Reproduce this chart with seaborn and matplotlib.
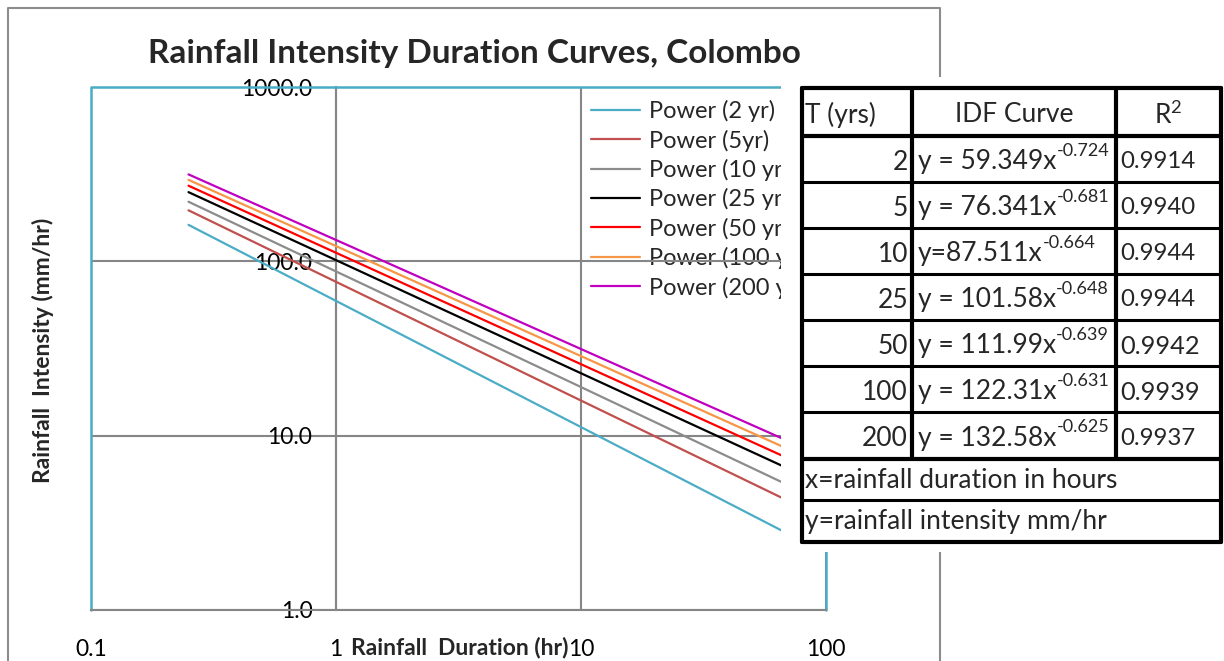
import numpy as np
import pandas as pd
import matplotlib
matplotlib.use('Agg')
import matplotlib.pyplot as plt
import seaborn as sns
from matplotlib.patches import Rectangle
from matplotlib.lines import Line2D
from matplotlib.text import Annotation
from matplotlib.transforms import Affine2D
from matplotlib.ticker import FixedLocator, FixedFormatter, NullLocator

durations = [0.25, 1, 10, 72]

# rainfall intensity (mm/hr) for each return period
intensity_2yr = [161.9, 59.3, 11.2, 2.68]
intensity_5yr = [196.2, 76.3, 15.9, 4.15]
intensity_10yr = [219.7, 87.5, 19.0, 5.11]
intensity_25yr = [249.4, 101.6, 22.8, 6.36]
intensity_50yr = [271.6, 112.0, 25.7, 7.28]
intensity_100yr = [293.3, 122.3, 28.6, 8.23]
intensity_200yr = [315.3, 132.6, 31.4, 9.15]

series_names = ['Power (2 yr)', 'Power (5yr)', 'Power (10 yr)', 'Power (25 yr)',
                'Power (50 yr)', 'Power (100 yr)', 'Power (200 yr)']
series_colors = ['#4BACC6', '#C0504D', '#8C8C8C', '#000000', '#FF0000', '#F79646', '#C000C0']

x_ticks = [0.1, 1, 10, 100]
x_tick_labels = ['0.1', '1', '10', '100']
y_ticks = [1, 10, 100, 1000]
y_tick_labels = ['1.0', '10.0', '100.0', '1000.0']

# table beside the chart
table_header = ['T (yrs)', 'IDF Curve', 'R$^2$']
return_periods = ['2', '5', '10', '25', '50', '100', '200']
idf_base = ['y = 59.349x', 'y = 76.341x', 'y=87.511x', 'y = 101.58x',
            'y = 111.99x', 'y = 122.31x', 'y = 132.58x']
idf_power = ['-0.724', '-0.681', '-0.664', '-0.648', '-0.639', '-0.631', '-0.625']
r_squared = ['0.9914', '0.9940', '0.9944', '0.9944', '0.9942', '0.9939', '0.9937']
table_notes = ['x=rainfall duration in hours', 'y=rainfall intensity mm/hr']

sns.set_style('white')
plt.rcParams['font.family'] = ['Lato', 'DejaVu Sans']
plt.rcParams['mathtext.fontset'] = 'custom'
plt.rcParams['mathtext.rm'] = 'Lato'
plt.rcParams['mathtext.default'] = 'regular'

W, H = 1224, 661
fig = plt.figure(figsize=(W / 100, H / 100), dpi=100)
fig.patch.set_facecolor('white')
pix = Affine2D().scale(1 / W, -1 / H).translate(0, 1) + fig.transFigure

# plot area in pixels: left 91, right 826, top 87, bottom 610
ax = fig.add_axes([91 / W, 1 - 610 / H, 735 / W, 523 / H])

df = pd.DataFrame({
    'duration': durations * 7,
    'intensity': (intensity_2yr + intensity_5yr + intensity_10yr + intensity_25yr
                  + intensity_50yr + intensity_100yr + intensity_200yr),
    'series': [s for s in series_names for _ in durations],
})
for name, color in zip(series_names, series_colors):
    sns.lineplot(data=df[df['series'] == name], x='duration', y='intensity',
                 color=color, lw=1.6, label=name, ax=ax, zorder=3)

ax.set_xscale('log')
ax.set_yscale('log')
ax.set_xlim(0.1, 100)
ax.set_ylim(1, 1000)
ax.xaxis.set_major_locator(FixedLocator(x_ticks))
ax.xaxis.set_major_formatter(FixedFormatter(x_tick_labels))
ax.yaxis.set_major_locator(FixedLocator(y_ticks))
ax.yaxis.set_major_formatter(FixedFormatter(y_tick_labels))
ax.xaxis.set_minor_locator(NullLocator())
ax.yaxis.set_minor_locator(NullLocator())
ax.set_xlabel('')
ax.set_ylabel('')

grid_gray = '#868686'
ax.set_axisbelow(True)
ax.grid(True, which='major', color=grid_gray, lw=1.5)

# value axis crosses at x = 1 like the original
for side in ['top', 'right']:
    ax.spines[side].set_visible(False)
ax.spines['left'].set_position(('data', 1))
ax.spines['left'].set_color(grid_gray)
ax.spines['left'].set_linewidth(1.5)
ax.spines['bottom'].set_color(grid_gray)
ax.spines['bottom'].set_linewidth(1.5)
ax.spines['bottom'].set_zorder(4)
ax.tick_params(axis='both', direction='out', length=6, width=1.5, color=grid_gray,
               labelsize=16.5, labelcolor='black')
ax.tick_params(axis='y', pad=11)
ax.tick_params(axis='x', pad=15)

# cyan plot-area border on left, top and right
ax.add_line(Line2D([0, 0, 1, 1], [0, 1, 1, 0], transform=ax.transAxes,
                   color='#4BACC6', lw=1.8, clip_on=False, zorder=3.5))

leg = ax.legend(loc='upper left', bbox_to_anchor=(591, 100), bbox_transform=pix,
                frameon=False, fontsize=17, handlelength=2.08, handletextpad=0.38,
                borderpad=0, borderaxespad=0, labelspacing=0.31)
leg.set_zorder(0.4)

# outer chart frame
fig.add_artist(Line2D([8, 8, 940, 940], [700, 8, 8, 700], transform=pix,
                      color='#8C8C8C', lw=1.5, zorder=1))

fig.text(474, 53, 'Rainfall Intensity Duration Curves, Colombo', transform=pix,
         ha='center', va='center', fontsize=24, fontweight='bold', zorder=2)
fig.text(43, 350, 'Rainfall  Intensity (mm/hr)', transform=pix, rotation=90,
         ha='center', va='center', fontsize=16.5, fontweight='bold', zorder=2)
fig.text(460, 648, 'Rainfall  Duration (hr)', transform=pix,
         ha='center', va='center', fontsize=16.5, fontweight='bold', zorder=2)

# white block holding the table, hides part of the chart
fig.add_artist(Rectangle((781, 77), 500, 475, transform=pix, facecolor='white',
                         edgecolor='none', zorder=5))

tl, tr = 802, 1221
c1, c2 = 912, 1116
rows = [88, 136, 182, 228, 274, 320, 366, 412, 459, 500, 542]
for i, y in enumerate(rows):
    lw = 3 if i in (0, 1, 8, len(rows) - 1) else 2.2
    fig.add_artist(Line2D([tl, tr], [y, y], transform=pix, color='black', lw=lw, zorder=6))
for x in [tl, tr]:
    fig.add_artist(Line2D([x, x], [rows[0], rows[-1]], transform=pix, color='black', lw=3, zorder=6))
for x in [c1, c2]:
    fig.add_artist(Line2D([x, x], [rows[0], rows[8]], transform=pix, color='black', lw=3, zorder=6))

fs = 19
tkw = dict(transform=pix, va='center', fontsize=fs, zorder=7)
ymid = [(rows[i] + rows[i + 1]) / 2 + 3 for i in range(len(rows) - 1)]
fig.text(805, ymid[0], table_header[0], ha='left', **tkw)
fig.text((c1 + c2) / 2, ymid[0], table_header[1], ha='center', **tkw)
fig.text((c2 + tr) / 2, ymid[0], table_header[2], ha='center', **tkw)
for i, (t, base, pw, r2) in enumerate(zip(return_periods, idf_base, idf_power, r_squared)):
    y = ymid[i + 1]
    fig.text(c1 - 4, y, t, ha='right', **tkw)
    eq = fig.text(918, y, base, ha='left', **tkw)
    fig.add_artist(Annotation(pw, xy=(1.0, 0.95), xycoords=eq, ha='left', va='center',
                              fontsize=13, zorder=7))
    fig.text(c2 + 4, y, r2, ha='left', transform=pix, va='center',
             fontsize=18.3 if t in ('50', '100') else 17.3, zorder=7)
for note, y in zip(table_notes, ymid[8:]):
    fig.text(805, y - 2, note, ha='left', **tkw)

fig.savefig('out.png', dpi=100, facecolor='white')
